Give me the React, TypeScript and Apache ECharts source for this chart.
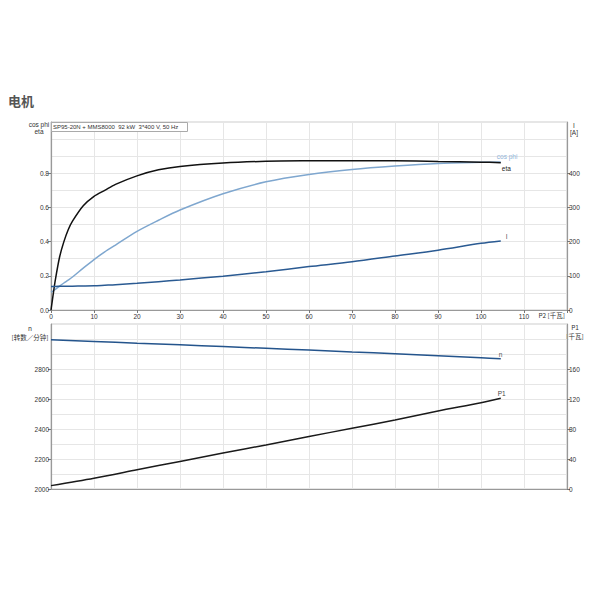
import React, { useEffect, useRef } from "react";
import * as echarts from "echarts";

// P2 [kW] sample points for the upper (motor) chart
const p2 = [0, 0.5, 1, 2, 3, 4, 5, 7.5, 10, 12.5, 15, 20, 25, 30, 40, 50, 60, 70, 80, 90, 100, 104.6];
const eta = [0, 0.09, 0.175, 0.31, 0.4, 0.47, 0.52, 0.61, 0.665, 0.7, 0.735, 0.785, 0.82, 0.84, 0.86, 0.87, 0.873, 0.874, 0.873, 0.869, 0.865, 0.862];
const cosPhi = [0.105, 0.112, 0.12, 0.14, 0.158, 0.175, 0.193, 0.245, 0.295, 0.34, 0.38, 0.46, 0.525, 0.585, 0.68, 0.75, 0.793, 0.822, 0.842, 0.857, 0.864, 0.866];
const current = [69, 69, 69, 69.2, 69.4, 69.6, 69.8, 70.3, 71, 72.5, 74, 78, 83, 88, 99, 112, 127, 141, 158, 175, 195, 202];

// lower chart: speed and input power
const p2Low = [0, 10, 20, 30, 40, 50, 60, 70, 80, 90, 100, 104.6];
const speed = [2995, 2984, 2972, 2961, 2950, 2938, 2926, 2914, 2902, 2889, 2875, 2868];
const p1 = [4.5, 14.4, 25.6, 36.8, 48, 58.8, 70, 81, 92, 104, 115, 121];

const etaTicks = [0, 0.2, 0.4, 0.6, 0.8];
const currentTicks = [0, 100, 200, 300, 400];
const speedTicks = [2000, 2200, 2400, 2600, 2800];
const p1Ticks = [0, 40, 80, 120, 160];

const FONT = "Liberation Sans, Arial, sans-serif";
const CJK = "Noto Sans CJK SC, sans-serif";

const pairs = (xs: number[], ys: number[]) => xs.map((x, i) => [x, ys[i]]);

const App: React.FC = () => {
  const chartRef = useRef<HTMLDivElement>(null);

  useEffect(() => {
    if (!chartRef.current) return;
    const chart = echarts.init(chartRef.current, null, { renderer: "svg" });

    const labelStyle = { fontSize: 6.5, color: "#333", fontFamily: FONT };
    const gridLine = { lineStyle: { color: "#e6e6e6", width: 1 } };
    const axisLine = { show: true, lineStyle: { color: "#999", width: 1.2 } };
    const tick = { show: true, length: 3, lineStyle: { color: "#777" } };

    const xBase = {
      type: "value",
      min: 0,
      max: 120,
      interval: 10,
      axisLine,
      splitLine: { show: true, ...gridLine },
    };

    const helperY = (gridIndex: number, min: number, max: number, interval: number) => ({
      type: "value",
      gridIndex,
      min,
      max,
      interval,
      axisLine: { show: false },
      axisTick: { show: false },
      axisLabel: { show: false },
      splitLine: { show: true, ...gridLine },
    });

    const seriesLine = (
      name: string,
      xi: number,
      yi: number,
      data: number[][],
      color: string,
      labelColor: string,
      offset: number[]
    ) => ({
      name,
      type: "line",
      xAxisIndex: xi,
      yAxisIndex: yi,
      data,
      showSymbol: false,
      smooth: 0.3,
      lineStyle: { color, width: 1.5 },
      itemStyle: { color },
      endLabel: {
        show: true,
        formatter: name,
        distance: 0,
        offset,
        fontSize: 6.5,
        color: labelColor,
        fontFamily: FONT,
      },
    });

    const nameText = (text: string, x: number, y: number, font: string, lineHeight: number) => ({
      type: "text",
      x,
      y,
      style: { text, align: "center", verticalAlign: "top", fontSize: 6.5, lineHeight, fill: "#333", fontFamily: font },
    });

    const option = {
      animation: false,
      backgroundColor: "#fff",
      title: [
        {
          text: "电机",
          left: 8,
          top: 94,
          padding: 0,
          textStyle: { fontSize: 13, fontWeight: "bold", color: "#555", fontFamily: CJK },
        },
        {
          text: "SP95-20N + MMS8000  92 kW  3*400 V, 50 Hz",
          left: 51,
          top: 122,
          padding: [1, 9, 1, 2],
          borderColor: "#aaa",
          borderWidth: 1,
          backgroundColor: "#fff",
          textStyle: { fontSize: 6, fontWeight: "normal", color: "#333", fontFamily: FONT, lineHeight: 8 },
        },
      ],
      grid: [
        { left: 51, right: 33, top: 122, height: 188, show: true, borderColor: "#ccc", borderWidth: 1 },
        { left: 51, right: 33, top: 324, height: 165, show: true, borderColor: "#ccc", borderWidth: 1 },
      ],
      xAxis: [
        {
          ...xBase,
          gridIndex: 0,
          axisTick: tick,
          axisLabel: {
            ...labelStyle,
            margin: 3,
            formatter: (v: number) => (v >= 120 ? "" : String(v)),
          },
        },
        {
          ...xBase,
          gridIndex: 1,
          axisTick: { show: false },
          axisLabel: { show: false },
        },
      ],
      yAxis: [
        {
          type: "value",
          gridIndex: 0,
          position: "left",
          min: 0,
          max: 1.1,
          axisLine,
          axisTick: { ...tick, customValues: etaTicks },
          axisLabel: { ...labelStyle, margin: 2, customValues: etaTicks, formatter: (v: number) => v.toFixed(1) },
          splitLine: { show: false },
        },
        {
          type: "value",
          gridIndex: 0,
          position: "right",
          min: 0,
          max: 550,
          axisLine,
          axisTick: { ...tick, customValues: currentTicks },
          axisLabel: { ...labelStyle, margin: 2, customValues: currentTicks, formatter: (v: number) => String(v) },
          splitLine: { show: false },
        },
        helperY(0, 0, 1.1, 0.1),
        {
          type: "value",
          gridIndex: 1,
          position: "left",
          min: 2000,
          max: 3100,
          axisLine,
          axisTick: { ...tick, customValues: speedTicks },
          axisLabel: { ...labelStyle, margin: 2, customValues: speedTicks, formatter: (v: number) => String(v) },
          splitLine: { show: false },
        },
        {
          type: "value",
          gridIndex: 1,
          position: "right",
          min: 0,
          max: 220,
          axisLine,
          axisTick: { ...tick, customValues: p1Ticks },
          axisLabel: { ...labelStyle, margin: 2, customValues: p1Ticks, formatter: (v: number) => String(v) },
          splitLine: { show: false },
        },
        helperY(1, 2000, 3100, 100),
      ],
      graphic: [
        nameText("cos phi\neta", 39, 121, FONT, 7),
        nameText("I\n[A]", 574, 122, FONT, 7),
        nameText("n\n[转数／分钟]", 30, 323, CJK, 9),
        nameText("P1\n[千瓦]", 575, 322, CJK, 9),
        {
          type: "text",
          x: 565,
          y: 312,
          style: { text: "P2 [千瓦]", align: "right", verticalAlign: "top", fontSize: 6.5, fill: "#333", fontFamily: CJK },
        },
      ],
      series: [
        seriesLine("cos phi", 0, 0, pairs(p2, cosPhi), "#7fa7cf", "#8fb4da", [-4, -5]),
        seriesLine("eta", 0, 0, pairs(p2, eta), "#111", "#222", [1, 5.5]),
        seriesLine("I", 0, 1, pairs(p2, current), "#2a5a92", "#555", [5, -4]),
        seriesLine("n", 1, 3, pairs(p2Low, speed), "#24548c", "#555", [-2, -4]),
        seriesLine("P1", 1, 4, pairs(p2Low, p1), "#1a1a1a", "#444", [-3, -5]),
      ],
    };

    chart.setOption(option as any);

    return () => {
      chart.dispose();
    };
  }, []);

  return (
    <div
      ref={chartRef}
      style={{ position: "absolute", left: 0, top: 0, width: "600px", height: "600px" }}
    />
  );
};

export default App;
